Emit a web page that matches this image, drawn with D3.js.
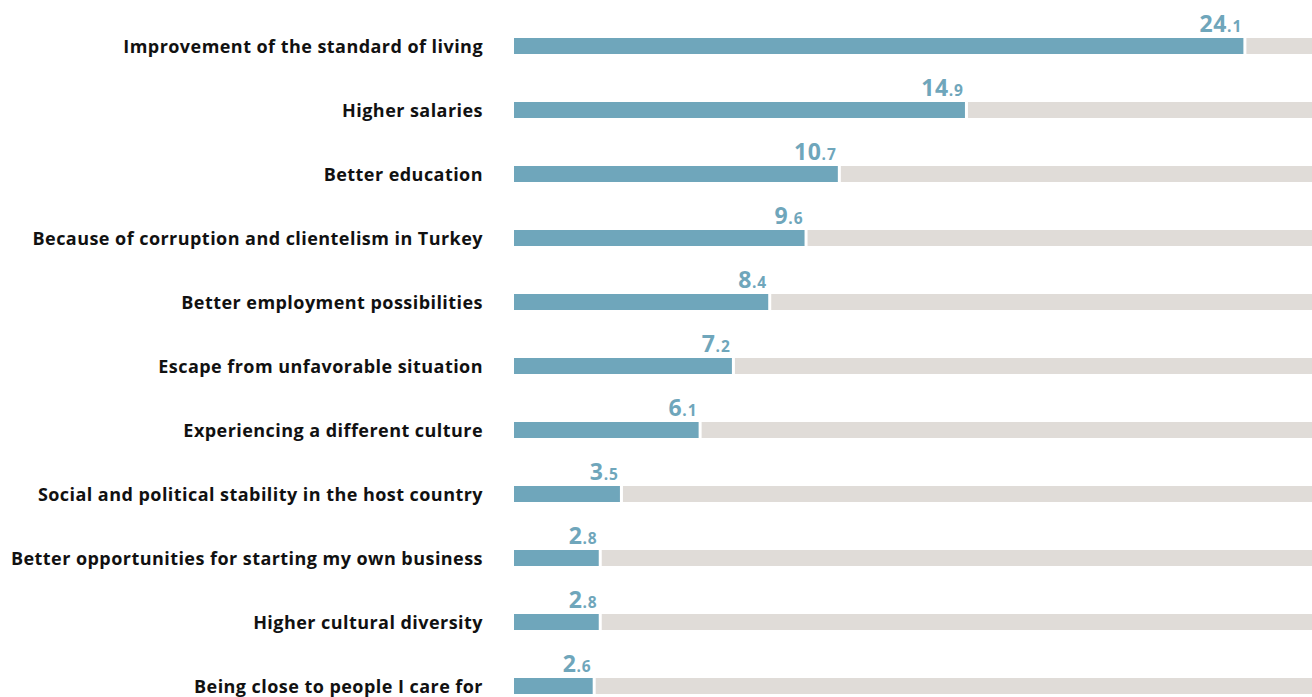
<!DOCTYPE html>
<html>
<head>
<meta charset="utf-8">
<script src="https://cdn.jsdelivr.net/npm/d3@7"></script>
<style>
  html, body { margin: 0; padding: 0; background: #fff; }
  svg { display: block; }
</style>
</head>
<body>
<svg id="chart" width="1312" height="697"></svg>
<script>
// Reasons for leaving, share of respondents (%)
const categories = [
  "Improvement of the standard of living",
  "Higher salaries",
  "Better education",
  "Because of corruption and clientelism in Turkey",
  "Better employment possibilities",
  "Escape from unfavorable situation",
  "Experiencing a different culture",
  "Social and political stability in the host country",
  "Better opportunities for starting my own business",
  "Higher cultural diversity",
  "Being close to people I care for"
];
const values = [24.1, 14.9, 10.7, 9.6, 8.4, 7.2, 6.1, 3.5, 2.8, 2.8, 2.6];

const W = 1312, H = 697;
const barColor = "#6fa6bb";
const trackColor = "#e0dcd8";
const barH = 16;

const svg = d3.select("#chart");

const x = d3.scaleLinear().domain([0, 26.4]).range([514, 1313]);
const y = d3.scaleBand()
  .domain(categories)
  .range([38 - 24, 38 - 24 + 64 * categories.length])
  .paddingInner(0);

const rows = svg.selectAll("g.row")
  .data(categories.map((c, i) => ({ c, v: values[i] })))
  .join("g")
  .attr("class", "row")
  .attr("transform", d => `translate(0,${y(d.c) + 24})`);

// grey remainder track
rows.append("rect")
  .attr("x", d => x(d.v) + 3)
  .attr("y", 0)
  .attr("width", d => W - x(d.v) - 3)
  .attr("height", barH)
  .attr("fill", trackColor);

// value bar
rows.append("rect")
  .attr("x", x(0))
  .attr("y", 0)
  .attr("width", d => x(d.v) - x(0))
  .attr("height", barH)
  .attr("fill", barColor);

// category label
rows.append("text")
  .attr("x", 483)
  .attr("y", barH - 1)
  .attr("text-anchor", "end")
  .attr("font-family", "'Open Sans', 'Noto Sans', sans-serif")
  .attr("font-weight", 700)
  .attr("font-size", 18)
  .attr("letter-spacing", 0.45)
  .attr("fill", "#111")
  .text(d => d.c);

// value label: large integer part, small decimal part
const vl = rows.append("text")
  .attr("x", d => x(d.v) - 1)
  .attr("y", -6)
  .attr("text-anchor", "end")
  .attr("font-family", "'Open Sans', 'Noto Sans', sans-serif")
  .attr("font-weight", 700)
  .attr("fill", barColor);
vl.append("tspan")
  .attr("font-size", 23)
  .attr("letter-spacing", 0.6)
  .text(d => d.v.toFixed(1).split(".")[0]);
vl.append("tspan")
  .attr("font-size", 15.5)
  .attr("letter-spacing", 1)
  .text(d => "." + d.v.toFixed(1).split(".")[1]);
</script>
</body>
</html>
